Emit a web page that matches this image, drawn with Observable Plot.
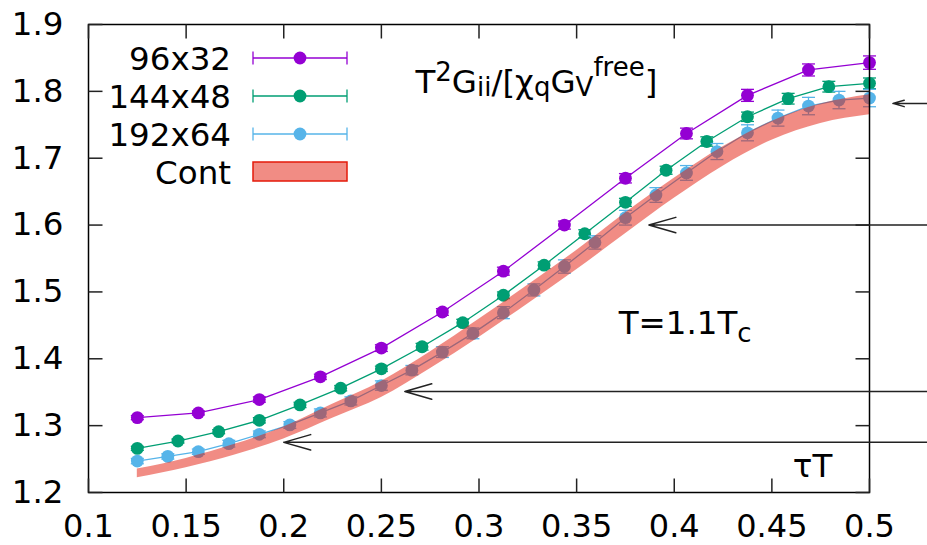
<!DOCTYPE html>
<html><head><meta charset="utf-8">
<script src="https://cdn.jsdelivr.net/npm/d3@7"></script>
<script src="https://cdn.jsdelivr.net/npm/@observablehq/plot@0.6"></script>
<style>html,body{margin:0;padding:0;background:#fff;overflow:hidden}</style>
</head><body><div id="chart"></div>
<script>
const FONT = "DejaVu Sans";
const FS = 32.5, FS_SMALL = 26;

// ---- data ----
const seriesNames = ["96x32", "144x48", "192x64"];
const seriesColors = ["#9400d3", "#009e73", "#56b4e9"];

const tau96 = [0.125,0.15625,0.1875,0.21875,0.25,0.28125,0.3125,0.34375,0.375,0.40625,0.4375,0.46875,0.5];
const g96   = [1.312,1.319,1.339,1.373,1.416,1.470,1.531,1.600,1.670,1.737,1.794,1.832,1.843];
const e96   = [0.003,0.003,0.004,0.004,0.005,0.005,0.006,0.006,0.007,0.008,0.009,0.009,0.010];

const tau144 = [0.125,0.145833,0.166667,0.1875,0.208333,0.229167,0.25,0.270833,0.291667,0.3125,0.333333,0.354167,0.375,0.395833,0.416667,0.4375,0.458333,0.479167,0.5];
const g144   = [1.266,1.277,1.291,1.308,1.331,1.356,1.385,1.418,1.454,1.495,1.540,1.587,1.634,1.682,1.725,1.762,1.789,1.807,1.812];
const e144   = [0.003,0.003,0.003,0.004,0.004,0.004,0.004,0.005,0.005,0.005,0.005,0.006,0.006,0.006,0.007,0.007,0.008,0.008,0.008];

const tau192 = [0.125,0.140625,0.15625,0.171875,0.1875,0.203125,0.21875,0.234375,0.25,0.265625,0.28125,0.296875,0.3125,0.328125,0.34375,0.359375,0.375,0.390625,0.40625,0.421875,0.4375,0.453125,0.46875,0.484375,0.5];
const g192   = [1.247,1.254,1.261,1.273,1.287,1.301,1.319,1.337,1.360,1.383,1.410,1.438,1.469,1.503,1.538,1.574,1.611,1.645,1.678,1.710,1.738,1.760,1.778,1.787,1.790];
const e192   = [0.004,0.004,0.004,0.005,0.005,0.005,0.006,0.006,0.007,0.007,0.008,0.008,0.009,0.009,0.010,0.010,0.011,0.011,0.011,0.012,0.012,0.012,0.013,0.013,0.013];

const contName = "Cont";
const contColor = "#e41a0a";
const contTau = [0.125,0.15,0.175,0.2,0.225,0.25,0.275,0.3,0.325,0.35,0.375,0.4,0.425,0.45,0.475,0.5];
const contLo  = [1.222,1.237,1.256,1.280,1.311,1.342,1.385,1.432,1.482,1.533,1.587,1.640,1.688,1.727,1.752,1.765];
const contHi  = [1.235,1.251,1.272,1.298,1.332,1.366,1.410,1.459,1.510,1.562,1.618,1.670,1.717,1.755,1.781,1.795];

const xTicks = [0.1,0.15,0.2,0.25,0.3,0.35,0.4,0.45,0.5];
const yTicks = [1.2,1.3,1.4,1.5,1.6,1.7,1.8,1.9];

const arrowY    = [1.782, 1.600, 1.351, 1.275];
const arrowTip  = [0.512, 0.387, 0.262, 0.200];
const arrowTail = [0.530, 0.560, 0.560, 0.560];

const annotations = [
  {x: 0.2677, y: 1.7975, parts: [["T",0,FS],["2",-12,FS_SMALL],["G",0,FS],["ii",3,FS_SMALL],["/[χ",0,FS],["q",3,FS_SMALL],["G",0,FS],["V",3,FS_SMALL],["free",-17,FS_SMALL],["]",0,FS]]},
  {x: 0.3718, y: 1.4369, parts: [["T=1.1T",0,FS],["c",8,FS_SMALL]]},
  {x: 0.4610, y: 1.2228, parts: [["τT",0,FS]]}
];

// ---- tables ----
const tauArr = [tau96, tau144, tau192], gArr = [g96, g144, g192], eArr = [e96, e144, e192];
const series = seriesNames.map((name, k) => ({
  name, color: seriesColors[k],
  rows: tauArr[k].map((t, i) => ({tau: t, g: gArr[k][i], lo: gArr[k][i] - eArr[k][i], hi: gArr[k][i] + eArr[k][i]}))
}));
const band = contTau.map((t, i) => ({tau: t, lo: contLo[i], hi: contHi[i]}));
const arrows = arrowY.map((y, i) => ({y, tip: arrowTip[i], tail: arrowTail[i]}));

// ---- symbols ----
const cap = {draw(c) { c.moveTo(-6.5, 0); c.lineTo(6.5, 0); }};
const tUp = {draw(c) { c.moveTo(0, 0); c.lineTo(0, -14); }};
const tDown = {draw(c) { c.moveTo(0, 0); c.lineTo(0, 14); }};
const tRight = {draw(c) { c.moveTo(0, 0); c.lineTo(14, 0); }};
const tLeft = {draw(c) { c.moveTo(0, 0); c.lineTo(-14, 0); }};

const marks = [];
for (const s of series) {
  marks.push(Plot.line(s.rows, {x: "tau", y: "g", stroke: s.color, strokeWidth: 1.3}));
  marks.push(Plot.ruleX(s.rows, {x: "tau", y1: "lo", y2: "hi", stroke: s.color, strokeWidth: 1.3}));
  marks.push(Plot.dot(s.rows, {x: "tau", y: "lo", symbol: cap, stroke: s.color, fill: "none", strokeWidth: 1.3}));
  marks.push(Plot.dot(s.rows, {x: "tau", y: "hi", symbol: cap, stroke: s.color, fill: "none", strokeWidth: 1.3}));
  marks.push(Plot.dot(s.rows, {x: "tau", y: "g", r: 6.4, fill: s.color, stroke: "none"}));
}
marks.push(Plot.areaY(band, {x: "tau", y1: "lo", y2: "hi", fill: contColor, fillOpacity: 0.5, curve: "monotone-x"}));

// frame, ticks (inward, mirrored), labels
marks.push(Plot.frame({stroke: "black", strokeWidth: 1.5}));
marks.push(Plot.dot(xTicks, {x: d => d, frameAnchor: "bottom", symbol: tUp, stroke: "#222", fill: "none", strokeWidth: 1.5}));
marks.push(Plot.dot(xTicks, {x: d => d, frameAnchor: "top", symbol: tDown, stroke: "#222", fill: "none", strokeWidth: 1.5}));
marks.push(Plot.dot(yTicks, {y: d => d, frameAnchor: "left", symbol: tRight, stroke: "#222", fill: "none", strokeWidth: 1.5}));
marks.push(Plot.dot(yTicks, {y: d => d, frameAnchor: "right", symbol: tLeft, stroke: "#222", fill: "none", strokeWidth: 1.5}));
marks.push(Plot.axisX({ticks: xTicks, tickSize: 0, tickPadding: 22, tickFormat: d => String(d), fontSize: 32, fill: "black"}));
marks.push(Plot.axisY({ticks: yTicks, tickSize: 0, tickPadding: 25, tickFormat: d => d.toFixed(1), fontSize: FS, fill: "black"}));

// arrows
marks.push(Plot.arrow(arrows, {x1: "tail", y1: "y", x2: "tip", y2: "y", stroke: "#222", strokeWidth: 1.5, headLength: 28, headAngle: 32}));

// legend + rich-text annotations
marks.push((index, scales, values, dims) => {
  const ml = dims.marginLeft, mt = dims.marginTop;
  const g = d3.create("svg:g").attr("font-family", FONT).attr("font-size", FS).attr("fill", "black");
  const items = [...series.map(s => ({name: s.name, color: s.color, kind: "err"})), {name: contName, color: contColor, kind: "band"}];
  items.forEach((it, i) => {
    const cy = mt + 34 + 38 * i;
    g.append("text").attr("x", ml + 143).attr("y", cy).attr("dy", "0.36em").attr("text-anchor", "end").text(it.name);
    const x0 = ml + 165, x1 = ml + 259, xm = (x0 + x1) / 2;
    if (it.kind === "err") {
      g.append("line").attr("x1", x0).attr("x2", x1).attr("y1", cy).attr("y2", cy).attr("stroke", it.color).attr("stroke-width", 1.3);
      for (const xx of [x0, x1]) g.append("line").attr("x1", xx).attr("x2", xx).attr("y1", cy - 6.5).attr("y2", cy + 6.5).attr("stroke", it.color).attr("stroke-width", 1.3);
      g.append("circle").attr("cx", xm).attr("cy", cy).attr("r", 6.4).attr("fill", it.color);
    } else {
      g.append("rect").attr("x", x0).attr("y", cy - 10).attr("width", x1 - x0).attr("height", 19)
        .attr("fill", it.color).attr("fill-opacity", 0.5).attr("stroke", it.color).attr("stroke-width", 1.5);
    }
  });
  for (const a of annotations) {
    const t = g.append("text").attr("x", scales.x(a.x)).attr("y", scales.y(a.y)).attr("text-anchor", "start");
    let cur = 0;
    for (const [str, shift, size] of a.parts) {
      t.append("tspan").attr("dy", shift - cur).attr("font-size", size).text(str);
      cur = shift;
    }
  }
  return g.node();
});

const chart = Plot.plot({
  width: 927, height: 545,
  marginTop: 24, marginRight: 58, marginBottom: 53, marginLeft: 88,
  x: {domain: [0.1, 0.5]},
  y: {domain: [1.2, 1.9]},
  style: {fontFamily: FONT, fontSize: FS + "px", background: "white", overflow: "visible"},
  marks
});
document.getElementById("chart").appendChild(chart);
</script>
</body></html>
